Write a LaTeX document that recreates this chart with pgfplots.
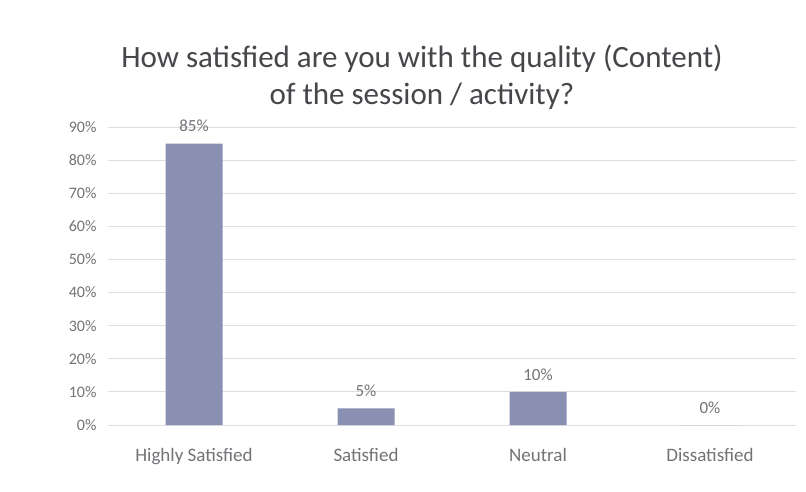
\documentclass[border=0pt]{standalone}
\usepackage{fontspec}
\setmainfont{Carlito}
\usepackage{pgfplots}
\pgfplotsset{compat=1.18}
\definecolor{barc}{RGB}{138,144,178}
\definecolor{gridc}{RGB}{222,222,226}
\definecolor{tickc}{RGB}{115,115,120}
\definecolor{titlec}{RGB}{70,70,75}
\begin{document}
\begin{tikzpicture}
\useasboundingbox[fill=white] (0,0) rectangle (806pt,491pt);
\node[text=titlec, align=center, font=\fontsize{31}{37}\selectfont] at (422pt,414pt)
  {How satisfied are you with the quality (Content)\\of the session / activity?};
\begin{axis}[
  at={(108pt,66pt)}, anchor=south west,
  scale only axis, width=688pt, height=298pt,
  xmin=-0.5, xmax=3.5, ymin=0, ymax=90,
  ytick={0,10,...,90},
  yticklabel={\pgfmathprintnumber{\tick}\%},
  /pgf/number format/assume math mode=true,
  xtick={0,1,2,3},
  xticklabels={Highly Satisfied,Satisfied,Neutral,Dissatisfied},
  axis line style={draw=none},
  x axis line style={draw=gridc},
  major tick length=0pt,
  ymajorgrids, grid style={gridc, line width=0.8pt},
  yticklabel style={text=tickc, font=\fontsize{16}{19}\selectfont, xshift=-8pt},
  xticklabel style={text=tickc, font=\fontsize{19}{22}\selectfont, yshift=-20pt},
  ybar, bar width=57pt,
  nodes near coords={\pgfmathprintnumber{\pgfplotspointmeta}\%},
  every node near coord/.append style={text=tickc, font=\fontsize{17}{20}\selectfont, yshift=8pt},
  point meta=explicit symbolic,
]
\addplot[fill=barc, draw=none] coordinates {(0,85) [85] (1,5) [5] (2,10) [10] (3,0) [0]};
\end{axis}
\end{tikzpicture}
\end{document}
